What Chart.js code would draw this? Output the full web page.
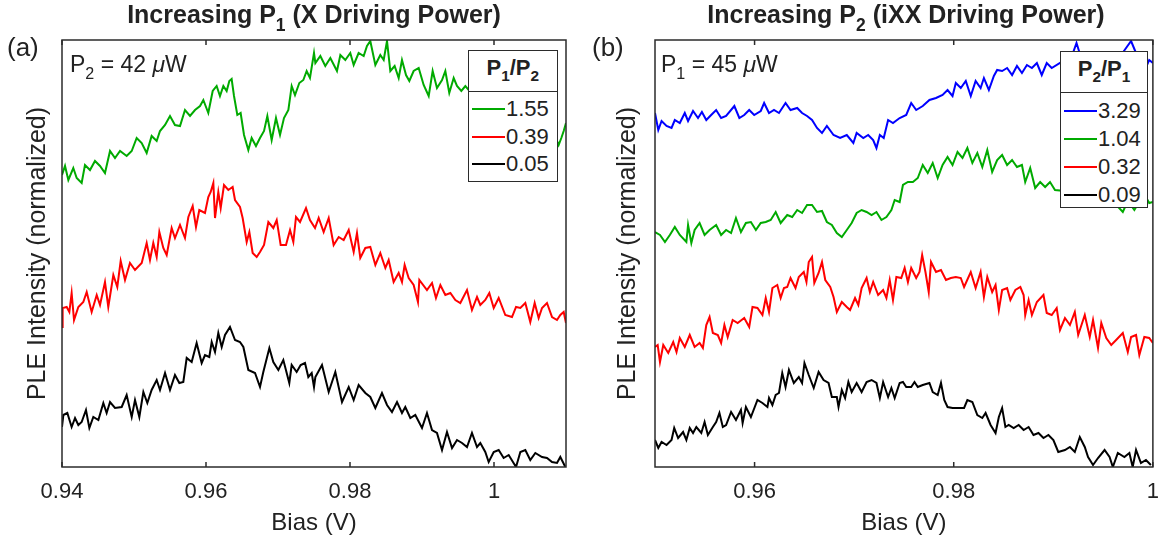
<!DOCTYPE html>
<html>
<head>
<meta charset="utf-8">
<script src="https://cdn.jsdelivr.net/npm/chart.js@4.4.1/dist/chart.umd.min.js"></script>
<style>
    body { margin: 0; background: #fff; }
    #fig { position: relative; width: 1171px; height: 550px; font-family: 'Liberation Sans', Arial, sans-serif; color: #222; }
    canvas { position: absolute; top: 0; }
    .title { position: absolute; top: 0; font-weight: bold; font-size: 25px; line-height: 28px; text-align: center; white-space: nowrap; }
    .tag { position: absolute; top: 32px; font-size: 26px; line-height: 30px; }
    .note { position: absolute; top: 51px; font-size: 23px; line-height: 26px; white-space: nowrap; }
    .sub { font-size: 0.7em; position: relative; top: 0.45em; }
    .legend { position: absolute; box-sizing: border-box; border: 1.5px solid #2b2b2b; background: #fff; font-size: 22px; }
    .legend .head { height: 40px; line-height: 33px; text-align: center; font-weight: bold; border-bottom: 1.5px solid #2b2b2b; }
    .legend .rows { padding-top: 4px; }
    .legend .row { display: flex; align-items: center; }
    .legend .swatch { width: 33px; height: 2px; margin-left: 3px; margin-right: 1px; }
</style>
</head>
<body>
<div id="fig">
    <canvas id="chartA" width="590" height="550" style="left:0"></canvas>
    <canvas id="chartB" width="581" height="550" style="left:590px"></canvas>

    <div class="title" style="left:62px; width:504px">Increasing P<span class="sub">1</span> (X Driving Power)</div>
    <div class="title" style="left:655px; width:502px">Increasing P<span class="sub">2</span> (iXX Driving Power)</div>
    <div class="tag" style="left:7px">(a)</div>
    <div class="tag" style="left:592px">(b)</div>
    <div class="note" style="left:70px">P<span class="sub">2</span> = 42 <i>μ</i>W</div>
    <div class="note" style="left:661px">P<span class="sub">1</span> = 45 <i>μ</i>W</div>

    <div class="legend" id="legendA" style="left:468px; top:49.5px; width:89.5px; height:132px"></div>
    <div class="legend" id="legendB" style="left:1060px; top:50.5px; width:88px; height:157.5px"></div>
</div>

<script>
    // (a) sweep of P1 with P2 fixed at 42 uW -- bias (V) and normalized PLE
    const ratiosA = ['1.55', '0.39', '0.05'];
    const xTicksA = [0.94, 0.96, 0.98, 1.00];

    const biasA1 = [0.94000,0.94042,0.94088,0.94157,0.94204,0.94273,0.94319,0.94389,0.94458,0.94528,0.94597,0.94667,0.94736,0.94806,0.94898,0.94968,0.95037,0.95107,0.95176,0.95245,0.95315,0.95361,0.95431,0.95500,0.95569,0.95639,0.95708,0.95778,0.95847,0.95917,0.95963,0.96032,0.96093,0.96148,0.96194,0.96241,0.96287,0.96324,0.96356,0.96389,0.96435,0.96481,0.96528,0.96588,0.96634,0.96694,0.96750,0.96806,0.96852,0.96912,0.96972,0.97028,0.97083,0.97144,0.97190,0.97236,0.97296,0.97352,0.97398,0.97444,0.97500,
        0.97519,0.97588,0.97657,0.97727,0.97819,0.97866,0.97935,0.98004,0.98051,0.98120,0.98190,0.98236,0.98282,0.98352,0.98421,0.98468,0.98514,0.98560,0.98620,0.98676,0.98722,0.98778,0.98824,0.98884,0.98954,0.99023,0.99093,0.99148,0.99208,0.99278,0.99324,0.99379,0.99440,0.99486,0.99546,0.99602,0.99648,0.99900,1.00200,1.00500,1.00800,1.00898,1.00935,1.00968,1.01000];
    const pleA1 = [2.92,3.01,2.87,2.99,2.89,2.84,3.02,2.97,3.06,3.01,2.94,3.16,3.09,3.16,3.11,3.16,3.29,3.24,3.14,3.31,3.26,3.36,3.42,3.51,3.42,3.41,3.57,3.51,3.57,3.61,3.67,3.54,3.76,3.81,3.71,3.81,3.76,3.86,3.88,3.71,3.52,3.54,3.32,3.17,3.29,3.21,3.29,3.36,3.51,3.27,3.49,3.32,3.49,3.57,3.81,3.72,3.84,3.87,3.96,3.89,4.14,
        4.04,4.11,4.01,4.09,3.96,4.12,4.07,4.14,4.02,4.14,4.11,4.21,4.26,4.02,4.12,4.07,4.26,3.96,4.01,3.89,4.07,3.92,3.86,3.96,3.99,3.82,3.71,3.96,3.79,3.87,3.96,3.74,3.89,3.81,3.76,3.81,3.77,3.70,3.62,3.52,3.40,3.22,3.29,3.36,3.44];

    const biasA2 = [0.94000,0.94009,0.94065,0.94102,0.94134,0.94167,0.94227,0.94296,0.94343,0.94412,0.94482,0.94528,0.94597,0.94643,0.94713,0.94768,0.94815,0.94875,0.94944,0.95014,0.95107,0.95176,0.95222,0.95268,0.95315,0.95352,0.95407,0.95454,0.95523,0.95569,0.95639,0.95708,0.95755,0.95815,0.95861,0.95907,0.95986,0.96032,0.96065,0.96102,0.96125,0.96171,0.96204,0.96250,0.96310,0.96370,0.96403,0.96472,0.96509,0.96565,0.96602,0.96648,0.96704,0.96750,0.96806,0.96866,0.96935,0.96982,0.97037,0.97111,0.97167,0.97213,0.97250,0.97306,0.97389,0.97444,0.97514,
        0.97565,0.97634,0.97704,0.97773,0.97843,0.97912,0.97982,0.98051,0.98097,0.98143,0.98213,0.98282,0.98352,0.98421,0.98491,0.98537,0.98606,0.98676,0.98722,0.98759,0.98815,0.98884,0.98944,0.98963,0.99069,0.99139,0.99194,0.99255,0.99324,0.99394,0.99463,0.99532,0.99625,0.99694,0.99764,0.99810,0.99879,0.99935,0.99996,1.00065,1.00157,1.00250,1.00306,1.00366,1.00435,1.00504,1.00565,1.00620,1.00667,1.00736,1.00806,1.00875,1.00921,1.00968,1.01000];
    const pleA2 = [1.40,1.59,1.60,1.55,1.74,1.47,1.60,1.65,1.75,1.55,1.72,1.62,1.85,1.60,1.92,1.80,2.06,1.87,2.04,1.97,2.04,2.24,2.07,2.24,2.10,2.35,2.19,2.12,2.39,2.29,2.42,2.29,2.50,2.61,2.40,2.57,2.54,2.70,2.75,2.84,2.49,2.75,2.59,2.82,2.77,2.80,2.67,2.60,2.49,2.25,2.35,2.14,2.10,2.15,2.22,2.45,2.39,2.47,2.22,2.22,2.37,2.25,2.50,2.45,2.59,2.47,2.39,
        2.49,2.35,2.49,2.22,2.30,2.27,2.37,2.15,2.34,2.09,2.19,2.20,2.02,2.14,1.99,2.07,1.85,1.94,1.85,2.02,1.89,1.82,1.65,1.87,1.77,1.84,1.69,1.82,1.72,1.74,1.67,1.64,1.77,1.57,1.70,1.62,1.67,1.74,1.59,1.69,1.52,1.50,1.60,1.59,1.64,1.45,1.64,1.49,1.59,1.64,1.50,1.47,1.52,1.55,1.44];

    const biasA3 = [0.94000,0.94019,0.94074,0.94134,0.94181,0.94227,0.94273,0.94333,0.94380,0.94435,0.94505,0.94574,0.94620,0.94667,0.94736,0.94829,0.94898,0.94968,0.95014,0.95074,0.95130,0.95185,0.95245,0.95315,0.95361,0.95431,0.95500,0.95569,0.95630,0.95685,0.95732,0.95801,0.95870,0.95940,0.95986,0.96046,0.96079,0.96125,0.96171,0.96218,0.96264,0.96333,0.96403,0.96472,0.96519,0.96588,0.96681,0.96750,0.96796,0.96880,0.96935,0.97005,0.97074,0.97157,0.97190,0.97259,0.97315,0.97375,0.97421,0.97468,0.97500,
        0.97519,0.97611,0.97704,0.97796,0.97889,0.97982,0.98051,0.98120,0.98213,0.98282,0.98352,0.98444,0.98514,0.98583,0.98653,0.98722,0.98768,0.98838,0.98907,0.99000,0.99069,0.99139,0.99208,0.99278,0.99347,0.99417,0.99486,0.99556,0.99625,0.99694,0.99764,0.99810,0.99879,0.99926,0.99996,1.00065,1.00134,1.00204,1.00306,1.00366,1.00435,1.00504,1.00574,1.00667,1.00736,1.00806,1.00875,1.00921,1.00991];
    const pleA3 = [0.40,0.52,0.54,0.40,0.49,0.42,0.45,0.57,0.39,0.50,0.47,0.64,0.54,0.65,0.59,0.60,0.72,0.50,0.67,0.50,0.75,0.64,0.77,0.87,0.77,0.94,0.77,0.92,0.84,0.85,1.09,1.05,1.24,1.04,1.12,1.10,1.25,1.15,1.34,1.20,1.32,1.40,1.27,1.25,1.20,0.97,0.94,0.80,0.95,1.19,1.05,0.97,1.07,0.84,1.02,0.95,1.02,1.04,0.90,0.94,0.80,
        0.90,1.02,0.75,0.95,0.65,0.80,0.67,0.82,0.74,0.70,0.59,0.74,0.62,0.55,0.65,0.54,0.60,0.49,0.52,0.39,0.54,0.37,0.34,0.17,0.35,0.19,0.27,0.24,0.20,0.34,0.20,0.24,0.15,0.05,0.15,0.17,0.09,0.12,0.00,0.15,0.17,0.07,0.14,0.10,0.09,0.05,0.04,0.10,0.00];

    // (b) sweep of P2 with P1 fixed at 45 uW
    const ratiosB = ['3.29', '1.04', '0.32', '0.09'];
    const xTicksB = [0.96, 0.98, 1.00];

    const biasB1 = [0.95000,0.95033,0.95066,0.95116,0.95166,0.95199,0.95249,0.95299,0.95332,0.95382,0.95432,0.95471,0.95515,0.95564,0.95614,0.95664,0.95714,0.95797,0.95847,0.95896,
        0.95946,0.95996,0.96062,0.96096,0.96145,0.96195,0.96245,0.96311,0.96361,0.96428,0.96477,0.96527,0.96577,0.96627,0.96677,0.96726,0.96793,0.96859,0.96926,0.96992,
        0.97025,0.97092,0.97141,0.97191,0.97224,0.97258,0.97297,0.97341,0.97390,0.97457,0.97523,0.97573,0.97623,0.97689,0.97756,0.97822,0.97888,0.97938,0.97988,0.98021,
        0.98071,0.98121,0.98171,0.98220,0.98270,0.98303,0.98353,0.98403,0.98436,0.98486,0.98536,0.98586,0.98635,0.98685,0.98735,0.98785,0.98835,0.98884,0.98934,0.98984,
        0.99084,0.99183,0.99233,0.99283,0.99382,0.99482,0.99582,0.99681,0.99781,0.99847,0.99914,0.99963,1.00000];
    const pleB1 = [3.54,3.37,3.46,3.41,3.39,3.47,3.44,3.54,3.46,3.56,3.49,3.55,3.47,3.52,3.57,3.49,3.51,3.61,3.49,3.52,
        3.57,3.52,3.56,3.64,3.54,3.57,3.54,3.64,3.57,3.59,3.54,3.51,3.47,3.39,3.34,3.41,3.32,3.29,3.32,3.24,
        3.34,3.29,3.32,3.27,3.19,3.32,3.29,3.47,3.44,3.49,3.52,3.64,3.57,3.61,3.67,3.69,3.72,3.77,3.71,3.84,
        3.79,3.86,3.71,3.86,3.79,3.89,3.77,3.91,3.97,3.96,3.99,3.92,4.01,3.94,4.02,3.99,4.04,3.92,4.04,3.99,
        4.05,4.10,4.24,4.08,4.12,4.10,4.14,4.12,4.26,4.10,3.96,4.07,4.04];

    const biasB2 = [0.95000,0.95050,0.95100,0.95149,0.95199,0.95249,0.95315,0.95332,0.95365,0.95398,0.95448,0.95498,0.95548,0.95614,0.95664,0.95714,0.95764,0.95813,0.95863,0.95913,
        0.95963,0.96013,0.96062,0.96112,0.96162,0.96212,0.96262,0.96328,0.96378,0.96428,0.96477,0.96527,0.96577,0.96627,0.96677,0.96726,0.96776,0.96826,0.96876,0.96926,
        0.96975,0.97025,0.97075,0.97125,0.97175,0.97224,0.97274,0.97324,0.97374,0.97407,0.97457,0.97490,0.97540,0.97590,0.97639,0.97689,0.97739,0.97789,0.97839,0.97888,
        0.97938,0.97988,0.98038,0.98088,0.98137,0.98187,0.98237,0.98287,0.98337,0.98386,0.98436,0.98486,0.98536,0.98586,0.98635,0.98685,0.98718,0.98768,0.98818,0.98868,
        0.98918,0.98967,0.99017,0.99117,0.99216,0.99316,0.99416,0.99515,0.99615,0.99698,0.99748,0.99814,0.99880,0.99930,0.99963,1.00000];
    const pleB2 = [2.35,2.32,2.25,2.32,2.40,2.32,2.25,2.42,2.24,2.37,2.44,2.32,2.37,2.42,2.32,2.37,2.34,2.49,2.35,2.44,
        2.45,2.37,2.44,2.45,2.47,2.55,2.44,2.52,2.50,2.57,2.54,2.62,2.62,2.55,2.56,2.45,2.42,2.34,2.30,2.37,
        2.44,2.54,2.57,2.55,2.52,2.55,2.47,2.50,2.57,2.67,2.65,2.82,2.85,2.85,2.89,3.02,2.94,3.04,2.89,3.02,
        3.10,3.02,3.15,3.09,3.19,3.04,3.14,3.00,3.17,2.95,3.07,3.12,3.02,3.07,3.00,3.02,2.85,2.99,2.79,2.85,
        2.80,2.85,2.77,2.76,2.72,2.74,2.68,2.70,2.64,2.55,2.66,2.57,2.68,2.70,2.64,2.65];

    const biasB3 = [0.95000,0.95027,0.95050,0.95083,0.95133,0.95183,0.95216,0.95249,0.95299,0.95349,0.95398,0.95448,0.95481,0.95515,0.95548,0.95581,0.95631,0.95664,0.95697,0.95730,
        0.95780,0.95830,0.95896,0.95946,0.95979,0.96029,0.96079,0.96112,0.96145,0.96179,0.96228,0.96262,0.96295,0.96328,0.96361,0.96411,0.96444,0.96494,0.96521,0.96544,
        0.96577,0.96600,0.96643,0.96677,0.96710,0.96760,0.96793,0.96826,0.96876,0.96926,0.96959,0.97009,0.97042,0.97075,0.97125,0.97158,0.97191,0.97241,0.97291,0.97324,
        0.97357,0.97390,0.97424,0.97473,0.97507,0.97540,0.97573,0.97623,0.97656,0.97683,0.97716,0.97749,0.97772,0.97822,0.97872,0.97922,0.97971,0.98021,0.98071,0.98104,
        0.98171,0.98220,0.98270,0.98303,0.98337,0.98386,0.98420,0.98453,0.98486,0.98536,0.98569,0.98619,0.98669,0.98702,0.98718,0.98752,0.98785,0.98835,0.98901,0.98934,
        0.98984,0.99034,0.99067,0.99117,0.99167,0.99216,0.99250,0.99316,0.99366,0.99399,0.99449,0.99482,0.99532,0.99582,0.99631,0.99698,0.99748,0.99781,0.99831,0.99864,
        0.99914,0.99963,1.00000];
    const pleB3 = [1.20,1.22,1.05,1.22,1.14,1.25,1.15,1.29,1.20,1.32,1.20,1.24,1.19,1.42,1.50,1.34,1.32,1.24,1.42,1.30,
        1.47,1.44,1.49,1.40,1.60,1.59,1.52,1.69,1.55,1.79,1.82,1.69,1.79,1.80,1.89,1.79,1.90,1.95,1.85,2.05,
        2.10,1.84,1.94,2.05,1.87,1.80,1.70,1.55,1.65,1.60,1.57,1.69,1.62,1.79,1.89,1.75,1.85,1.72,1.77,1.69,
        1.87,1.67,1.90,1.89,1.99,1.85,1.99,1.89,1.95,2.12,1.95,1.75,2.05,1.95,1.97,1.87,1.89,1.90,1.89,1.80,
        1.95,1.79,1.95,1.70,1.90,1.75,1.82,1.57,1.77,1.79,1.67,1.77,1.80,1.72,1.52,1.67,1.52,1.65,1.72,1.54,
        1.52,1.59,1.37,1.49,1.42,1.55,1.32,1.52,1.30,1.47,1.19,1.44,1.29,1.22,1.27,1.34,1.15,1.30,1.32,1.12,
        1.30,1.29,1.24];

    const biasB4 = [0.95000,0.95033,0.95066,0.95116,0.95166,0.95193,0.95232,0.95282,0.95315,0.95349,0.95382,0.95415,0.95465,0.95498,0.95531,0.95581,0.95614,0.95647,0.95681,0.95714,
        0.95764,0.95813,0.95863,0.95880,0.95913,0.95963,0.96029,0.96079,0.96129,0.96145,0.96179,0.96212,0.96245,0.96278,0.96311,0.96345,0.96394,0.96444,0.96477,0.96501,
        0.96544,0.96594,0.96643,0.96693,0.96743,0.96776,0.96826,0.96843,0.96876,0.96909,0.96942,0.96975,0.97025,0.97075,0.97125,0.97175,0.97224,0.97258,0.97291,0.97341,
        0.97374,0.97407,0.97457,0.97490,0.97523,0.97573,0.97606,0.97639,0.97689,0.97756,0.97789,0.97839,0.97872,0.97905,0.97938,0.97988,0.98054,0.98104,0.98137,0.98187,
        0.98237,0.98287,0.98320,0.98370,0.98420,0.98453,0.98486,0.98519,0.98552,0.98602,0.98652,0.98702,0.98752,0.98801,0.98851,0.98901,0.98951,0.99001,0.99050,0.99117,
        0.99167,0.99216,0.99266,0.99316,0.99349,0.99399,0.99449,0.99515,0.99565,0.99598,0.99648,0.99714,0.99764,0.99797,0.99831,0.99880,0.99930,0.99980];
    const pleB4 = [0.27,0.19,0.25,0.22,0.27,0.39,0.29,0.35,0.27,0.39,0.34,0.40,0.34,0.45,0.32,0.40,0.45,0.54,0.40,0.42,
        0.55,0.47,0.57,0.44,0.60,0.50,0.67,0.64,0.60,0.69,0.62,0.72,0.74,0.94,0.80,0.97,0.84,0.90,0.84,1.04,
        0.92,0.79,0.95,0.87,0.84,0.70,0.70,0.60,0.77,0.69,0.85,0.75,0.84,0.75,0.85,0.87,0.84,0.69,0.85,0.70,
        0.79,0.69,0.84,0.85,0.80,0.80,0.85,0.80,0.82,0.84,0.75,0.72,0.84,0.67,0.60,0.59,0.59,0.59,0.67,0.65,
        0.52,0.49,0.54,0.42,0.34,0.50,0.59,0.40,0.42,0.39,0.42,0.37,0.40,0.32,0.34,0.29,0.32,0.27,0.15,0.17,
        0.20,0.15,0.30,0.20,0.10,0.02,0.09,0.17,0.10,0.00,0.14,0.10,0.14,0.00,0.17,0.04,0.07,0.02];

    const GREEN = '#00aa00', RED = '#ff0000', BLUE = '#0000ff', BLACK = '#000000';
    const AXIS = '#2b2b2b';

    Chart.defaults.font.family = "'Liberation Sans', Arial, sans-serif";
    Chart.defaults.color = '#222';

    function series(label, xs, ys, color) {
        return {
            label: label,
            data: xs.map((x, i) => ({ x: x, y: ys[i] })),
            borderColor: color,
            borderWidth: 2,
            pointRadius: 0,
            tension: 0
        };
    }

    // box around the axes plus inward tick marks on top and bottom
    const framePlugin = {
        id: 'frame',
        afterDraw(chart) {
            const { ctx, chartArea: a, scales: { x } } = chart;
            ctx.save();
            ctx.strokeStyle = AXIS;
            ctx.lineWidth = 1.5;
            ctx.strokeRect(a.left, a.top, a.right - a.left, a.bottom - a.top);
            ctx.beginPath();
            x.ticks.forEach(t => {
                const px = x.getPixelForValue(t.value);
                ctx.moveTo(px, a.bottom);
                ctx.lineTo(px, a.bottom - 5);
                ctx.moveTo(px, a.top);
                ctx.lineTo(px, a.top + 5);
            });
            ctx.stroke();
            ctx.restore();
        }
    };

    function makePanel(canvasId, datasets, xMin, xMax, xTicks, yWidth, padRight) {
        return new Chart(document.getElementById(canvasId), {
            type: 'line',
            data: { datasets: datasets },
            plugins: [framePlugin],
            options: {
                responsive: false,
                animation: false,
                layout: { padding: { top: 40, right: padRight, bottom: 0, left: 0 } },
                plugins: { legend: { display: false }, tooltip: { enabled: false } },
                scales: {
                    x: {
                        type: 'linear',
                        min: xMin,
                        max: xMax,
                        afterBuildTicks: s => { s.ticks = xTicks.map(v => ({ value: v })); },
                        afterFit: s => { s.height = 83; },
                        grid: { display: false, drawTicks: false },
                        border: { display: false },
                        ticks: {
                            padding: 12,
                            maxRotation: 0,
                            font: { size: 22 },
                            callback: v => String(Number(v.toFixed(2)))
                        },
                        title: { display: true, text: 'Bias (V)', font: { size: 24 }, padding: { top: 0, bottom: 12.6 } }
                    },
                    y: {
                        min: 0,
                        max: 4.27,
                        afterFit: s => { s.width = yWidth; },
                        grid: { display: false, drawTicks: false },
                        border: { display: false },
                        ticks: { display: false },
                        title: { display: true, text: 'PLE Intensity (normalized)', font: { size: 25 }, padding: { top: 23, bottom: 0 } }
                    }
                }
            }
        });
    }

    function fillLegend(chart, el, head) {
        const rowH = el.id === 'legendA' ? 27.5 : 28;
        el.innerHTML = '<div class="head">' + head + '</div><div class="rows">' +
            chart.data.datasets.map(d =>
                `<div class="row" style="height:${rowH}px"><span class="swatch" style="background:${d.borderColor}"></span><span>${d.label}</span></div>`
            ).join('') + '</div>';
    }

    const chartA = makePanel('chartA', [
        series(ratiosA[0], biasA1, pleA1, GREEN),
        series(ratiosA[1], biasA2, pleA2, RED),
        series(ratiosA[2], biasA3, pleA3, BLACK)
    ], 0.94, 1.01, xTicksA, 62, 24);

    const chartB = makePanel('chartB', [
        series(ratiosB[0], biasB1, pleB1, BLUE),
        series(ratiosB[1], biasB2, pleB2, GREEN),
        series(ratiosB[2], biasB3, pleB3, RED),
        series(ratiosB[3], biasB4, pleB4, BLACK)
    ], 0.95, 1.00, xTicksB, 65, 14);

    fillLegend(chartA, document.getElementById('legendA'), 'P<span class="sub">1</span>/P<span class="sub">2</span>');
    fillLegend(chartB, document.getElementById('legendB'), 'P<span class="sub">2</span>/P<span class="sub">1</span>');
</script>
</body>
</html>
